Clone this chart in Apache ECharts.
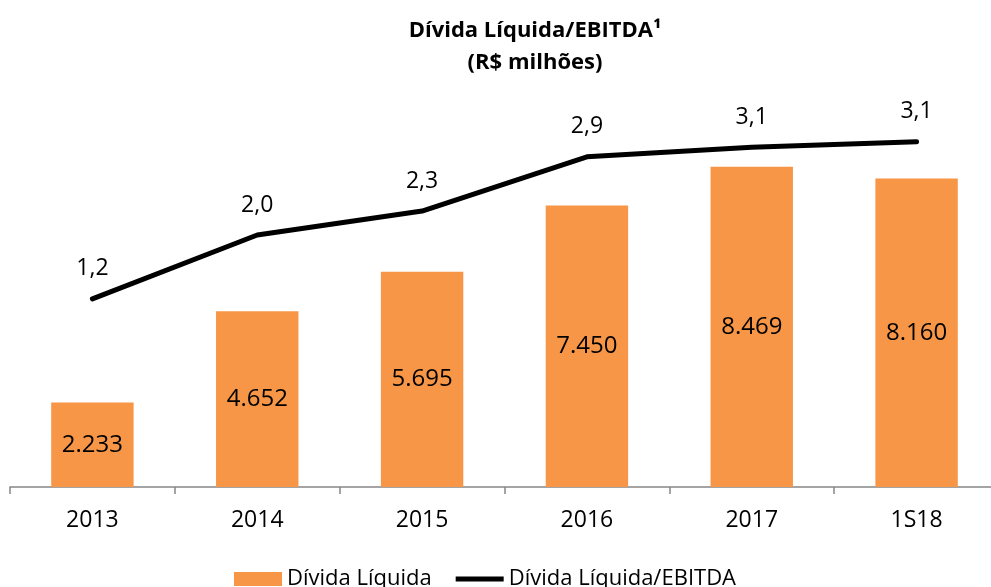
<!DOCTYPE html>
<html>
<head>
    <meta charset="utf-8">
    <title>Dívida Líquida/EBITDA</title>
    <script src="https://cdn.jsdelivr.net/npm/echarts@6/dist/echarts.min.js"></script>
    <style>
        html, body { margin: 0; padding: 0; background: #fff; }
        #main { width: 991px; height: 587px; }
    </style>
</head>
<body>
<div id="main"></div>
<script type="text/javascript">
    // data
    var categories = ['2013', '2014', '2015', '2016', '2017', '1S18'];
    var dividaLiquida = [2233, 4652, 5695, 7450, 8469, 8160];
    var dividaEbitda = [1.16, 1.96, 2.26, 2.94, 3.06, 3.13];

    var FONT = 'Open Sans';

    var chart = echarts.init(document.getElementById('main'));

    function fmtThousands(v) {
        return String(v).replace(/\B(?=(\d{3})+(?!\d))/g, '.');
    }

    var option = {
        animation: false,
        textStyle: { fontFamily: FONT, color: '#000' },
        title: {
            text: 'Dívida Líquida/EBITDA¹\n(R$ milhões)',
            left: 530,
            top: 10,
            textAlign: 'center',
            textStyle: {
                fontFamily: FONT,
                fontSize: 22,
                fontWeight: 'bold',
                color: '#000',
                lineHeight: 32
            }
        },
        legend: {
            bottom: -8,
            left: 229,
            itemGap: 24,
            itemWidth: 48,
            itemHeight: 14,
            textStyle: { fontFamily: FONT, fontSize: 22, color: '#000' },
            data: [
                { name: 'Dívida Líquida', icon: 'rect' },
                { name: 'Dívida Líquida/EBITDA', icon: 'path://M0,0 L10,0 L10,1 L0,1 Z' }
            ]
        },
        grid: {
            left: 10,
            top: 109,
            width: 989,
            bottom: 587 - 487,
            containLabel: false,
            outerBoundsMode: 'none'
        },
        xAxis: {
            type: 'category',
            data: categories,
            axisLine: { lineStyle: { color: '#868686', width: 1.5 } },
            axisTick: { show: true, length: 7, lineStyle: { color: '#868686', width: 1.5 } },
            axisLabel: { fontFamily: FONT, fontSize: 23, color: '#000', margin: 22 }
        },
        yAxis: [
            { type: 'value', min: 0, max: 10000, show: false, splitLine: { show: false } },
            { type: 'value', min: -1.2, max: 3.54, show: false, splitLine: { show: false } }
        ],
        series: [
            {
                name: 'Dívida Líquida',
                type: 'bar',
                data: dividaLiquida,
                barWidth: '50%',
                itemStyle: { color: '#F79646' },
                label: {
                    show: true,
                    position: 'inside',
                    fontFamily: FONT,
                    fontSize: 24,
                    color: '#000',
                    formatter: function (p) { return fmtThousands(p.value); }
                }
            },
            {
                name: 'Dívida Líquida/EBITDA',
                type: 'line',
                yAxisIndex: 1,
                data: dividaEbitda,
                symbol: 'circle',
                symbolSize: 1,
                lineStyle: { color: '#000', width: 5, cap: 'round', join: 'round' },
                itemStyle: { color: '#000' },
                label: {
                    show: true,
                    position: 'top',
                    distance: 18,
                    fontFamily: FONT,
                    fontSize: 23,
                    color: '#000',
                    formatter: function (p) { return p.value.toFixed(1).replace('.', ','); }
                }
            }
        ]
    };

    chart.setOption(option);
</script>
</body>
</html>
